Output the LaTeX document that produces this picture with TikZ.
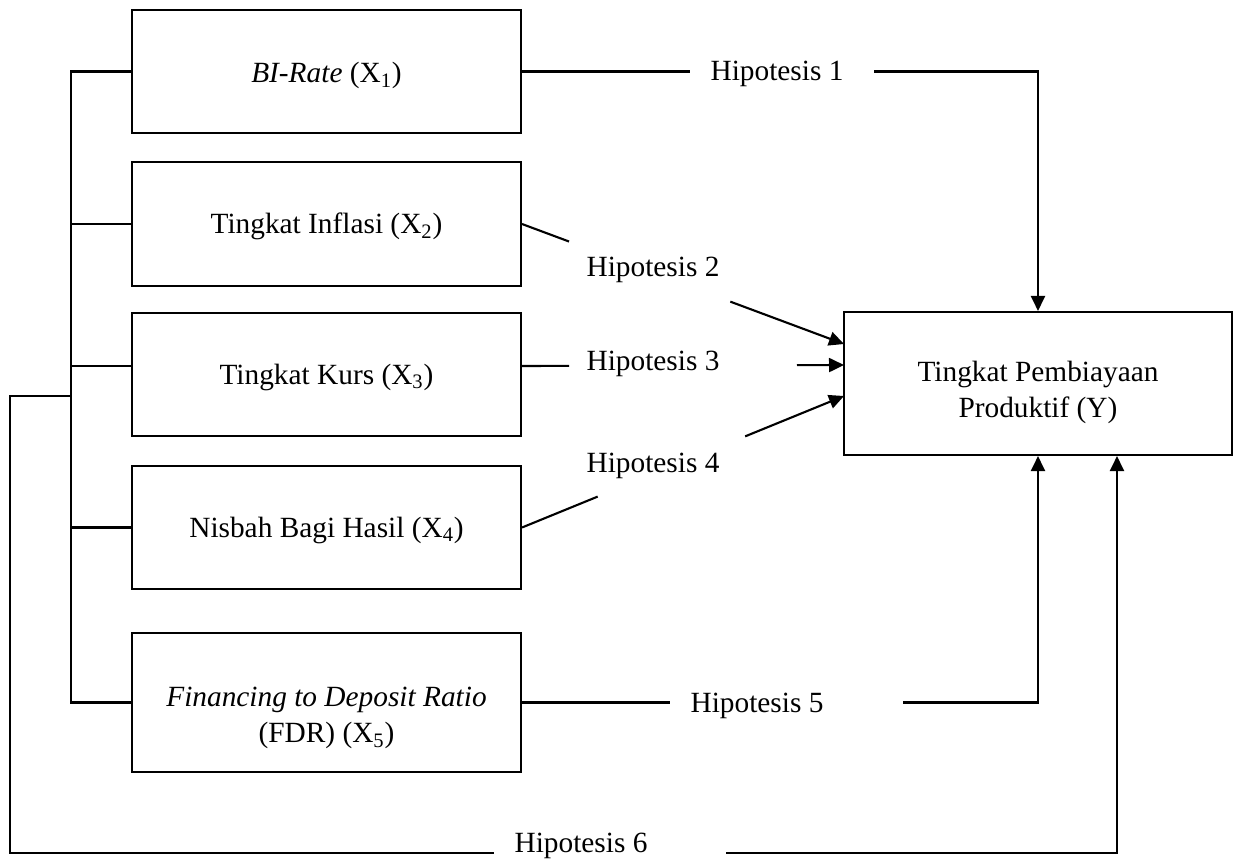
\documentclass[tikz,border=0pt]{standalone}
\usepackage{fontspec}
\setmainfont{Liberation Serif}
\usepackage{tikz}
\usetikzlibrary{arrows.meta, calc}

\begin{document}
\begin{tikzpicture}[x=0.02cm, y=-0.02cm, line width=1.2pt,
                    font=\fontsize{16.7pt}{20.5pt}\selectfont]
        % Setup the style for the boxes and labels
        \tikzset{box style/.style={draw, rectangle,
                                   minimum width=7.78cm,
                                   minimum height=2.46cm,
                                   inner sep=0pt,
                                   text height=14.8pt,
                                   text depth=3.6pt,
                                   align=center},
                 two lines/.style={text height=#1},
                 hyp style/.style={anchor=base,
                                   inner xsep=0.4cm,
                                   inner ysep=0pt},
                 arrow style/.style={-{Triangle[length=0.3cm, width=0.28cm]}}}

        \useasboundingbox (0,0) rectangle (1238,859);

        % Draw the boxes
        \node[box style, text height=16.6pt] at (326.5, 71.5)  (birate) {\textit{BI-Rate} (X\textsubscript{1})};
        \node[box style, minimum height=2.48cm] at (326.5, 224) (inflasi) {Tingkat Inflasi (X\textsubscript{2})};
        \node[box style] at (326.5, 374.5) (kurs)   {Tingkat Kurs (X\textsubscript{3})};
        \node[box style] at (326.5, 527.5) (nisbah) {Nisbah Bagi Hasil (X\textsubscript{4})};
        \node[box style, two lines=49.6pt, minimum height=2.78cm] at (326.5, 702.5) (fdr)
            {\textit{Financing to Deposit Ratio}\\(FDR) (X\textsubscript{5})};
        \node[box style, two lines=41.8pt, minimum width=7.76cm, minimum height=2.86cm] at (1038, 383.5) (pembiayaan)
            {Tingkat Pembiayaan\\Produktif (Y)};

        % Draw the labels
        \node[hyp style] at (777, 80)  (hyp1) {Hipotesis 1};
        \node[hyp style] at (653, 276) (hyp2) {Hipotesis 2};
        \node[hyp style] at (653, 370) (hyp3) {Hipotesis 3};
        \node[hyp style] at (653, 472) (hyp4) {Hipotesis 4};
        \node[hyp style] at (757, 712) (hyp5) {Hipotesis 5};
        \node[hyp style] at (581, 852) (hyp6) {Hipotesis 6};

        % Points on the boxes
        \coordinate (kurs w)  at ($(kurs.west)+(0,-8.5)$);
        \coordinate (kurs e)  at ($(kurs.east)+(0,-8.5)$);
        \coordinate (in2) at (844, 344);
        \coordinate (in3) at (844, 365);
        \coordinate (in4) at (844, 396);
        \coordinate (back) at (10, 396);
        \coordinate (foot) at (1117, 853);

        % Left bracket
        \draw (birate.west) -- ++(-60,0) coordinate (top) |- (fdr.west);
        \draw (inflasi.west) -- (inflasi.west -| top);
        \draw (kurs w) -- (kurs w -| top);
        \draw (nisbah.west) -- (nisbah.west -| top);

        % Hipotesis 1
        \draw (birate.east) -- (birate.east -| hyp1.west);
        \draw[arrow style] ($(birate.east -| hyp1.east)+(10,0)$) -| (pembiayaan.north);
        % Hipotesis 2
        \draw (inflasi.east) -- ($(inflasi.east)!0.146!(in2)$);
        \draw[arrow style] ($(inflasi.east)!0.647!(in2)$) -- (in2);
        % Hipotesis 3
        \draw (kurs e) -- ($(kurs e)!0.146!(in3)$);
        \draw[arrow style] ($(kurs e)!0.854!(in3)$) -- (in3);
        % Hipotesis 4
        \draw (nisbah.east) -- ($(nisbah.east)!0.235!(in4)$);
        \draw[arrow style] ($(nisbah.east)!0.693!(in4)$) -- (in4);
        % Hipotesis 5
        \draw (fdr.east) -- (fdr.east -| hyp5.west);
        \draw[arrow style] ($(fdr.east -| hyp5.east)+(59,0)$) -| (pembiayaan.south);
        % Hipotesis 6
        \draw (back -| top) -- (back) |- (foot -| hyp6.west);
        \draw[arrow style] ($(foot -| hyp6.east)+(58,0)$) -- (foot) -- (foot |- pembiayaan.south);
\end{tikzpicture}
\end{document}
